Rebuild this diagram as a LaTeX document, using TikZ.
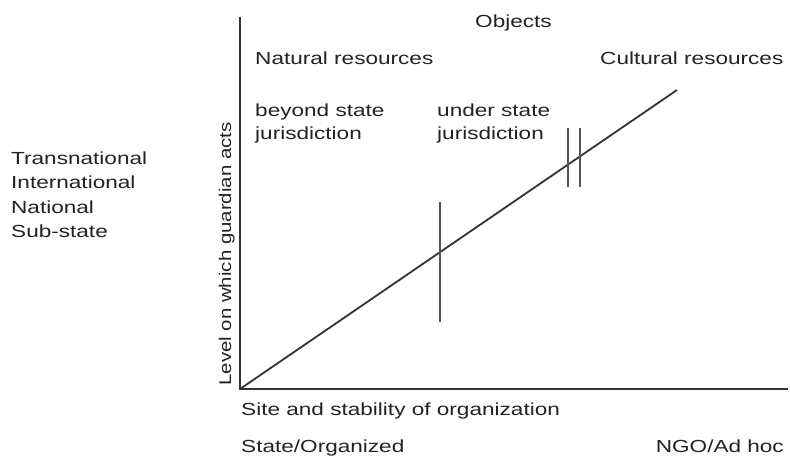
\documentclass[tikz,border=0pt]{standalone}
\usepackage{fontspec}
\setmainfont{Liberation Sans}[FakeStretch=1.29]
\newfontfamily\axisfont{Liberation Sans}[FakeStretch=1.2]
\definecolor{ink}{HTML}{222222}
\definecolor{rule}{HTML}{333333}
\definecolor{tick}{HTML}{555555}
\begin{document}
\begin{tikzpicture}[x=1pt,y=-1pt,
  label/.style={anchor=base west,inner sep=0pt,text=ink,font=\fontsize{17.5}{21}\selectfont},
  labelR/.style={label,anchor=base east},
  axis/.style={draw=rule,line width=1.9pt},
  trend/.style={draw=rule,line width=1.8pt},
  divider/.style={draw=tick,line width=1.3pt}]
\useasboundingbox (0,0) rectangle (790,457);

% axes
\coordinate (origin) at (240,389);
\coordinate (ytop) at (240,17);
\coordinate (xend) at (788,389);
\draw[axis] (ytop) -- (origin) -- (xend);

% trend line
\coordinate (tend) at (677,90);
\draw[trend] (origin) -- (tend);

% jurisdiction boundary
\coordinate (b1top) at (440,202);
\coordinate (b1bot) at (440,322);
\draw[divider] (b1top) -- (b1bot);

% natural / cultural boundary
\coordinate (b2top) at (568,128);
\coordinate (b2bot) at (568,187);
\coordinate (b3top) at (580,128);
\coordinate (b3bot) at (580,187);
\draw[divider] (b2top) -- (b2bot);
\draw[divider] (b3top) -- (b3bot);

% object headings
\node[label] (objects) at (475,28) {Objects};
\node[label] (natural) at (255,65) {Natural resources};
\node[label] (cultural) at (600,65) {Cultural resources};
\node[label] (beyond1) at (255,117) {beyond state};
\node[label] (beyond2) at (255,140) {jurisdiction};
\node[label] (under1) at (437,117) {under state};
\node[label] (under2) at (437,140) {jurisdiction};

% levels
\node[label] (trans) at (11,165) {Transnational};
\node[label] (inter) at (11,189) {International};
\node[label] (nat) at (11,214) {National};
\node[label] (sub) at (11,238) {Sub-state};

% vertical axis title
\node[inner sep=0pt,text=ink,rotate=90,anchor=base,font=\axisfont\fontsize{17}{20}\selectfont]
  (ytitle) at (231,254) {Level on which guardian acts};

% horizontal axis titles
\node[label] (xtitle) at (241,415) {Site and stability of organization};
\node[label] (state) at (241,452) {State/Organized};
\node[labelR] (ngo) at (784,452) {NGO/Ad hoc};
\end{tikzpicture}
\end{document}
